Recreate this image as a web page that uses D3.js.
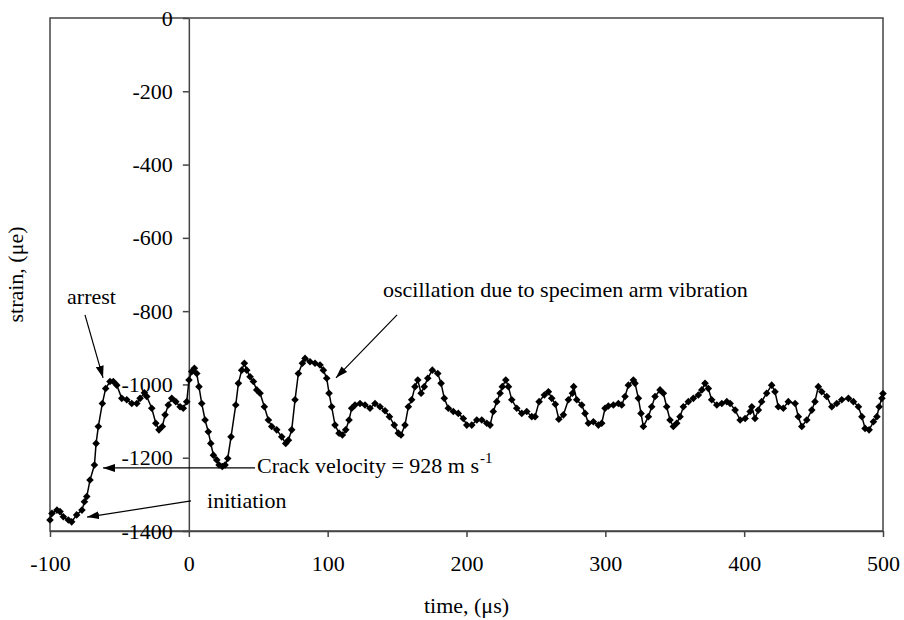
<!DOCTYPE html>
<html>
<head>
<meta charset="utf-8">
<script src="https://cdn.jsdelivr.net/npm/d3@7"></script>
<style>
  body { margin: 0; background: #fff; }
  svg text { font-family: "Liberation Serif", "Times New Roman", serif; font-size: 22px; fill: #000; }
</style>
</head>
<body>
<svg id="chart" width="904" height="620"></svg>
<script>
// time (µs) and strain (µe)
var time = [-100, -98.6, -95, -92.8, -90.4, -86.8, -84.4, -80.8, -77, -75.2, -73.5, -71.2, -68, -66.8, -65.2, -62.3,
  -59.9, -56.8, -54.4, -51.9, -48.3, -44.7, -41.1, -37.5, -35.1, -32, -30.3, -26.7, -23.8, -21.5, -19.1, -17.1,
  -14.8, -12.3, -9.4, -6.3, -4, -1.5, 0.1, 2.1, 4, 5.7, 7.3, 9.3, 11.7, 14, 15.8, 17.7, 20.1, 21.8, 24.1, 26.1,
  28, 30.4, 33.8, 35.7, 38.1, 40, 41.7, 44.1, 46.5, 48.9, 51.3, 54.4, 57.3, 59.7, 63.3, 66.9, 69.8, 71.7, 74.1,
  76.5, 78.9, 81.8, 83.7, 87.3, 90.9, 94.5, 96.9, 99.3, 101, 102.9, 105.3, 108.2, 110.6, 113, 115.4, 117.3, 119.7,
  123.3, 126.9, 130.5, 134.1, 137.7, 141.3, 144.5, 148, 150.9, 152.8, 155.7, 158.1, 160.5, 162.9, 164.9, 167.3,
  169.6, 172.1, 175.4, 179.3, 181.7, 184, 186.9, 190.5, 194.1, 197.7, 200.2, 203.8, 207.4, 211, 214.6, 217, 219.3,
  221.8, 224.2, 225.8, 228.3, 230.2, 232.6, 236.2, 239.8, 243.4, 247, 249.4, 252.3, 256.1, 259, 261.4, 264, 266.5,
  269.8, 273.4, 276.3, 277.2, 279.4, 283, 285.4, 287.8, 291.4, 295, 297.4, 299.8, 302.2, 305.8, 309.4, 311.8,
  314.2, 316.6, 320.2, 321.4, 323.8, 325.7, 327.4, 331, 333.4, 335.8, 339.4, 341.8, 344.2, 346.6, 349, 351.4,
  353.8, 356.2, 359.8, 363.4, 367, 369.5, 371.8, 374.2, 376.6, 380.3, 383.9, 387.5, 389.9, 393.5, 397.1, 400.7,
  404.3, 405.5, 407.8, 410.2, 412.6, 416.2, 419.8, 422.2, 424.6, 428.2, 431.8, 436.7, 439, 441.5, 445.1, 448.7,
  451, 453.4, 455.9, 459.5, 463.1, 466.7, 470.3, 475.1, 478.7, 482.3, 484.8, 487.1, 490, 493.1, 495.6, 497.2,
  499.2, 500];
var strain = [-1370, -1352, -1343, -1347, -1361, -1370, -1375, -1356, -1343, -1320, -1306, -1261, -1220, -1161, -1115, -1052,
  -1011, -992, -992, -1002, -1038, -1042, -1052, -1052, -1038, -1023, -1033, -1065, -1106, -1124, -1115, -1083,
  -1056, -1038, -1047, -1061, -1065, -1047, -988, -965, -956, -970, -1006, -1052, -1097, -1129, -1161, -1193, -1206, -1220, -1224, -1220,
  -1202, -1143, -1056, -997, -961, -942, -961, -979, -992, -1015, -1024, -1061, -1097, -1115, -1124, -1143, -1161, -1152, -1124,
  -1042, -970, -942, -929, -938, -942, -947, -961, -983, -1024, -1061, -1111, -1133, -1138, -1124, -1097, -1065, -1056,
  -1052, -1056, -1065, -1052, -1061, -1072, -1088, -1111, -1133, -1138, -1111, -1061, -1042, -1006, -988, -1024,
  -1006, -983, -961, -970, -997, -1038, -1065, -1074, -1079, -1093, -1111, -1111, -1097, -1097, -1106, -1111, -1074,
  -1047, -1024, -1006, -988, -1006, -1042, -1065, -1079, -1074, -1088, -1088, -1047, -1029, -1020, -1038, -1054, -1095,
  -1083, -1042, -1024, -1006, -1042, -1056, -1079, -1106, -1102, -1111, -1106, -1065, -1059, -1056, -1052, -1056,
  -1033, -1002, -988, -997, -1038, -1079, -1115, -1088, -1061, -1033, -1015, -1024, -1061, -1097, -1115, -1106,
  -1088, -1061, -1047, -1038, -1029, -1015, -997, -1011, -1042, -1056, -1052, -1047, -1052, -1070, -1097, -1093,
  -1074, -1061, -1093, -1070, -1047, -1024, -1002, -1020, -1061, -1065, -1047, -1052, -1088, -1115, -1097, -1070,
  -1047, -1006, -1020, -1033, -1061, -1052, -1042, -1038, -1047, -1061, -1088, -1120, -1124, -1102, -1088, -1061,
  -1038, -1025];

var xTicks = [-100, 0, 100, 200, 300, 400, 500];
var yTicks = [0, -200, -400, -600, -800, -1000, -1200, -1400];

// annotations: text anchor and arrow [from, to], in data units
var notes = [
  {text: "arrest", at: [-87.7, -780], from: [-74.8, -810], to: [-61.8, -982]},
  {text: "oscillation due to specimen arm vibration", at: [139.9, -761], from: [150, -810], to: [106, -982]},
  {text: "Crack velocity = 928 m s", sup: "-1", at: [49.1, -1242], from: [47.7, -1228], to: [-61.8, -1228]},
  {text: "initiation", at: [13.1, -1337], from: [1.6, -1318], to: [-73.3, -1362]}
];

(function() {
  var svg = d3.select("#chart"),
      box = {left: 50, right: 883, top: 18, bottom: 531},
      fmt = function(d) { return String(d); };

  var x = d3.scaleLinear().domain([-100, 500]).range([box.left, box.right]);
  var y = d3.scaleLinear().domain([0, -1400]).range([box.top, box.bottom]);

  svg.append("defs").append("marker")
      .attr("id", "head")
      .attr("viewBox", "0 0 12 8")
      .attr("refX", 12).attr("refY", 4)
      .attr("markerWidth", 12).attr("markerHeight", 8)
      .attr("markerUnits", "userSpaceOnUse")
      .attr("orient", "auto")
    .append("path")
      .attr("d", "M0,0L12,4L0,8Z")
      .attr("fill", "#000");

  svg.append("rect")
      .attr("x", box.left).attr("y", box.top)
      .attr("width", box.right - box.left).attr("height", box.bottom - box.top)
      .attr("fill", "none")
      .attr("stroke", "#444")
      .attr("stroke-width", 1.5);

  var xAxis = svg.append("g")
      .attr("transform", "translate(0," + box.bottom + ")")
      .call(d3.axisBottom(x).tickValues(xTicks).tickSize(6).tickSizeOuter(0).tickPadding(18).tickFormat(fmt));

  var yAxis = svg.append("g")
      .attr("transform", "translate(" + x(0) + ",0)")
      .call(d3.axisLeft(y).tickValues(yTicks).tickSize(6).tickSizeOuter(0).tickPadding(10).tickFormat(fmt));

  [xAxis, yAxis].forEach(function(g) {
    g.attr("font-size", null).attr("font-family", null);
    g.selectAll("path, line").attr("stroke", "#444").attr("stroke-width", 1.5);
    g.selectAll("text").attr("fill", "#000");
  });

  var pts = time.map(function(t, i) { return [t, strain[i]]; });

  svg.append("path")
      .datum(pts)
      .attr("fill", "none")
      .attr("stroke", "#000")
      .attr("stroke-width", 1.5)
      .attr("d", d3.line()
        .x(function(d) { return x(d[0]); })
        .y(function(d) { return y(d[1]); }));

  svg.append("g").selectAll("path")
    .data(pts)
    .enter().append("path")
      .attr("transform", function(d) { return "translate(" + x(d[0]) + "," + y(d[1]) + ")"; })
      .attr("d", "M0,-3.8L3.8,0L0,3.8L-3.8,0Z")
      .attr("fill", "#000");

  var note = svg.append("g").selectAll("g")
    .data(notes)
    .enter().append("g");

  note.append("line")
      .attr("x1", function(d) { return x(d.from[0]); })
      .attr("y1", function(d) { return y(d.from[1]); })
      .attr("x2", function(d) { return x(d.to[0]); })
      .attr("y2", function(d) { return y(d.to[1]); })
      .attr("stroke", "#000")
      .attr("stroke-width", 1.2)
      .attr("marker-end", "url(#head)");

  var label = note.append("text")
      .attr("x", function(d) { return x(d.at[0]); })
      .attr("y", function(d) { return y(d.at[1]); })
      .text(function(d) { return d.text; });

  label.filter(function(d) { return d.sup; })
    .append("tspan")
      .attr("dx", 1)
      .attr("dy", -10)
      .style("font-size", "15px")
      .text(function(d) { return d.sup; });

  svg.append("text")
      .attr("transform", "translate(23," + ((box.top + box.bottom) / 2) + ") rotate(-90)")
      .attr("text-anchor", "middle")
      .text("strain, (\u03bce)");

  svg.append("text")
      .attr("x", (box.left + box.right) / 2)
      .attr("y", 613)
      .attr("text-anchor", "middle")
      .text("time, (\u03bcs)");
})();
</script>
</body>
</html>
